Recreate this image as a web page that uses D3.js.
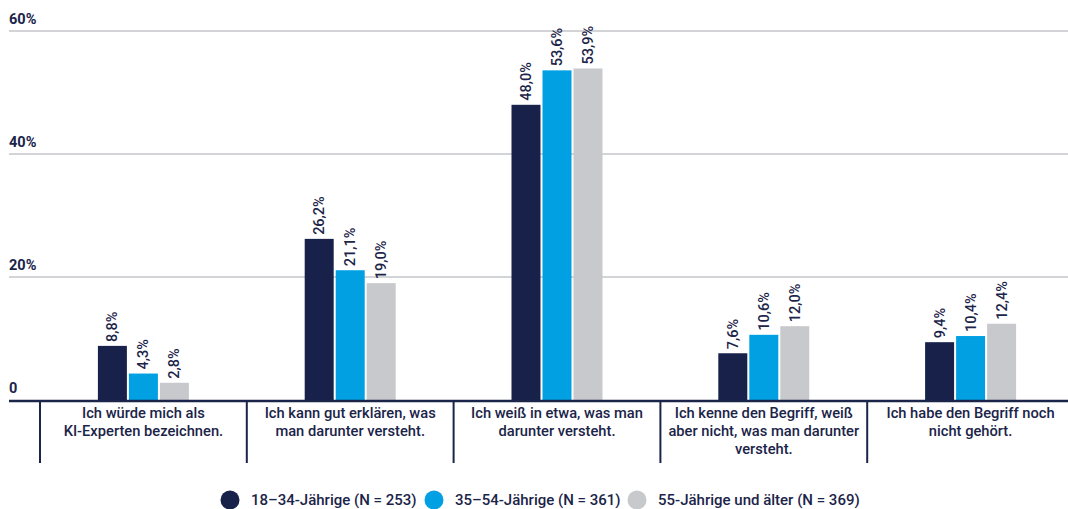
<!DOCTYPE html>
<html><head><meta charset="utf-8">
<script src="https://cdn.jsdelivr.net/npm/d3@7"></script>
<style>body{margin:0;background:#fff}svg{display:block;font-family:Roboto,"Noto Sans",sans-serif}</style>
</head><body><svg id="c" width="1068" height="509"></svg>
<script>
const categories = [
  ["Ich würde mich als", "KI-Experten bezeichnen."],
  ["Ich kann gut erklären, was", "man darunter versteht."],
  ["Ich weiß in etwa, was man", "darunter versteht."],
  ["Ich kenne den Begriff, weiß", "aber nicht, was man darunter", "versteht."],
  ["Ich habe den Begriff noch", "nicht gehört."]
];
const seriesNames = ["18–34-Jährige (N = 253)", "35–54-Jährige (N = 361)", "55-Jährige und älter (N = 369)"];
const s1 = [8.8, 26.2, 48.0, 7.6, 9.4];
const s2 = [4.3, 21.1, 53.6, 10.6, 10.4];
const s3 = [2.8, 19.0, 53.9, 12.0, 12.4];
const yTicks = [0, 20, 40, 60];
const tickLabels = ["0", "20%", "40%", "60%"];

const colors = ["#17214a", "#00a0e3", "#c8c9cc"];
const navy = "#1b2449";
const series = [s1, s2, s3];
const svg = d3.select("#c");

const y = d3.scaleLinear().domain([0, 60]).range([400, 31]);
const x = d3.scaleBand().domain(d3.range(categories.length)).range([40, 1074]).padding(0);
const inner = d3.scaleBand().domain([0,1,2]).range([0, 91]).paddingInner(0.065);

// gridlines
svg.append("g").selectAll("line").data(yTicks.slice(1)).join("line")
  .attr("x1", 9).attr("x2", 1068).attr("y1", d => y(d)).attr("y2", d => y(d))
  .attr("stroke", "#d2d4d8").attr("stroke-width", 2);
svg.append("g").selectAll("text").data(yTicks).join("text")
  .attr("x", 9).attr("y", d => y(d) - 7)
  .attr("font-size", 14.5).attr("font-weight", 700).attr("fill", navy)
  .text((d, i) => tickLabels[i]);

// bars
categories.forEach((c, ci) => {
  const gx = x(ci) + x.bandwidth() / 2 - 45.5;
  series.forEach((s, si) => {
    const bx = gx + inner(si);
    svg.append("rect").attr("x", bx).attr("y", y(s[ci])).attr("width", inner.bandwidth())
      .attr("height", y(0) - y(s[ci])).attr("fill", colors[si]);
    const tx = bx + inner.bandwidth() / 2 + 5, ty = y(s[ci]) - 4;
    svg.append("text").attr("transform", `translate(${tx},${ty}) rotate(-90)`)
      .attr("font-size", 14.5).attr("fill", navy).attr("font-weight", 500)
      .text(d3.format(".1f")(s[ci]).replace(".", ",") + "%");
  });
});

// baseline
svg.append("line").attr("x1", 9).attr("x2", 1068).attr("y1", y(0) + 1).attr("y2", y(0) + 1)
  .attr("stroke", navy).attr("stroke-width", 2.5);
// separators
svg.append("g").selectAll("line").data(d3.range(categories.length)).join("line")
  .attr("x1", d => x(d)).attr("x2", d => x(d)).attr("y1", y(0)).attr("y2", 463)
  .attr("stroke", navy).attr("stroke-width", 2);
// category labels
categories.forEach((c, ci) => {
  const t = svg.append("text").attr("text-anchor", "middle").attr("font-size", 14.7)
    .attr("font-weight", 500).attr("fill", navy);
  c.forEach((line, li) => t.append("tspan").attr("x", x(ci) + x.bandwidth() / 2)
    .attr("y", 418 + li * 18).text(line));
});

// legend
const legX = [230, 434, 637];
seriesNames.forEach((n, i) => {
  svg.append("circle").attr("cx", legX[i]).attr("cy", 500).attr("r", 9.5).attr("fill", colors[i]);
  svg.append("text").attr("x", legX[i] + 21).attr("y", 505).attr("font-size", 15)
    .attr("font-weight", 500).attr("fill", navy).text(n);
});
</script></body></html>
